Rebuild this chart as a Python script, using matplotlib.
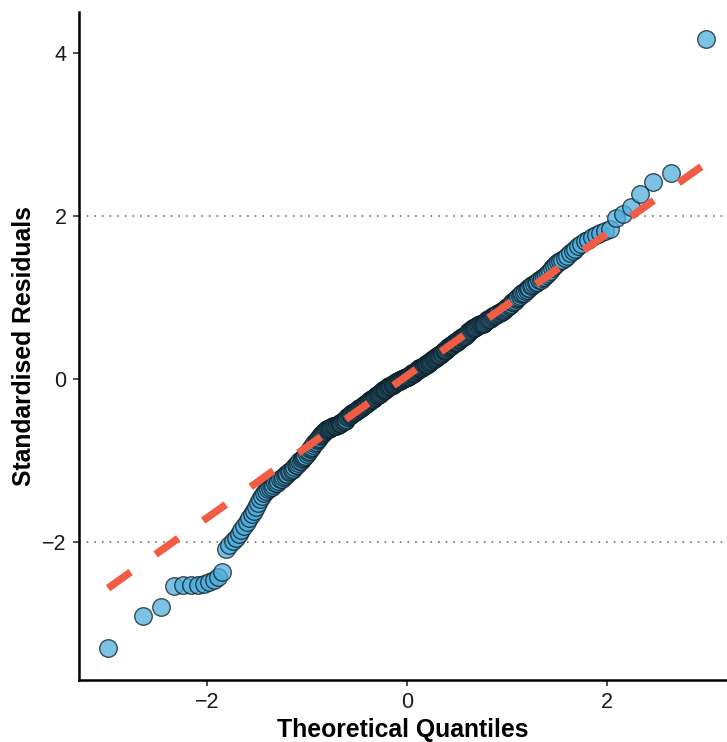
import matplotlib
matplotlib.use("Agg")
import matplotlib.pyplot as plt
import numpy as np
from statistics import NormalDist

# Sorted standardised residuals (n = 358)
residuals_low = [-3.30, -2.90, -2.80, -2.54, -2.53, -2.52, -2.52, -2.51, -2.49, -2.47, -2.43, -2.37, -2.09]
residuals_a = [-2.04, -1.99, -1.95, -1.90, -1.85, -1.80, -1.75,
               -1.70, -1.66, -1.62, -1.57, -1.52, -1.47, -1.43, -1.40, -1.37,
               -1.35, -1.33, -1.32, -1.30, -1.28, -1.27, -1.25, -1.23, -1.22, -1.20, -1.19, -1.17,
               -1.16, -1.14, -1.13, -1.11, -1.10, -1.08, -1.06, -1.05, -1.03, -1.01, -1.00, -0.98, -0.97, -0.95, -0.94, -0.92]
residuals_b = [-0.90, -0.88, -0.86, -0.84, -0.83, -0.81, -0.79, -0.77, -0.75, -0.74, -0.72, -0.70, -0.69, -0.67, -0.66, -0.65, -0.64, -0.62, -0.61,
               -0.61, -0.61, -0.60, -0.60, -0.59, -0.59, -0.58, -0.58, -0.57, -0.57, -0.56, -0.56, -0.55, -0.55, -0.54, -0.54, -0.53, -0.52, -0.52, -0.51, -0.50, -0.49,
               -0.46, -0.46, -0.45, -0.44, -0.44, -0.43, -0.42, -0.42, -0.41, -0.40, -0.40, -0.39, -0.38, -0.38, -0.37, -0.36, -0.35, -0.35, -0.34, -0.33, -0.33, -0.32, -0.31, -0.31, -0.30]
residuals_c = [-0.29, -0.28, -0.28, -0.27, -0.26, -0.26, -0.25, -0.24, -0.24, -0.23, -0.22, -0.22, -0.21, -0.20, -0.20, -0.19, -0.18, -0.18, -0.17, -0.16, -0.16, -0.15, -0.14, -0.14, -0.13, -0.12, -0.12, -0.11,
               -0.10, -0.10, -0.09, -0.09, -0.08, -0.08, -0.07, -0.07, -0.06, -0.06, -0.05, -0.05, -0.04, -0.04, -0.03, -0.03, -0.02, -0.02, -0.01, -0.01, 0.00, 0.00, 0.00, 0.01, 0.01, 0.01, 0.02, 0.02]
residuals_d = [0.03, 0.03, 0.04, 0.04, 0.05, 0.05, 0.06, 0.07, 0.07, 0.08, 0.08, 0.09, 0.10, 0.10, 0.11, 0.11, 0.12, 0.13, 0.13, 0.14, 0.14, 0.15, 0.15, 0.16, 0.16, 0.17, 0.17, 0.18,
               0.19, 0.19, 0.20, 0.21, 0.21, 0.22, 0.22, 0.23, 0.24, 0.24, 0.25, 0.26, 0.26, 0.27, 0.28, 0.28, 0.29, 0.30, 0.30, 0.31, 0.32, 0.32, 0.33, 0.34, 0.34, 0.35, 0.36, 0.37]
residuals_e = [0.38, 0.39, 0.39, 0.40, 0.41, 0.42, 0.42, 0.43, 0.44, 0.44, 0.45, 0.46, 0.46, 0.47, 0.48, 0.49, 0.49, 0.50, 0.51, 0.51, 0.52, 0.53, 0.53, 0.54, 0.55,
               0.57, 0.58, 0.59, 0.59, 0.60, 0.61, 0.62, 0.62, 0.63, 0.64, 0.64, 0.65, 0.66, 0.66, 0.67, 0.67, 0.68, 0.68, 0.69, 0.69, 0.70, 0.71,
               0.72, 0.73, 0.73, 0.74, 0.75, 0.76, 0.77, 0.77, 0.78, 0.79, 0.80, 0.81, 0.81, 0.82, 0.83, 0.84, 0.85, 0.86, 0.87]
residuals_f = [0.88, 0.89, 0.91, 0.92, 0.94, 0.95, 0.96, 0.98, 0.99, 1.01, 1.02, 1.04, 1.05, 1.06, 1.08, 1.09,
               1.11, 1.12, 1.14, 1.15, 1.16, 1.18, 1.19, 1.21, 1.22, 1.24, 1.25, 1.27,
               1.30, 1.33, 1.36, 1.39, 1.41, 1.43, 1.45, 1.46, 1.48,
               1.51, 1.54, 1.57, 1.60, 1.63, 1.66, 1.69,
               1.71, 1.74, 1.77, 1.79, 1.81]
residuals_high = [1.84, 1.98, 2.02, 2.11, 2.27, 2.42, 2.53, 4.17]

x_ticks = [-2, 0, 2]
y_ticks = [-2, 0, 2, 4]
ref_lines = [-2, 2]

sample = np.sort(np.array(residuals_low + residuals_a + residuals_b + residuals_c +
                          residuals_d + residuals_e + residuals_f + residuals_high))
n = len(sample)
nd = NormalDist()
a = 3 / 8 if n <= 10 else 0.5
probs = (np.arange(1, n + 1) - a) / (n + 1 - 2 * a)
theoretical = np.array([nd.inv_cdf(p) for p in probs])

# qq line through the quartiles
yq = np.percentile(sample, [25, 75])
xq = np.array([nd.inv_cdf(0.25), nd.inv_cdf(0.75)])
slope = (yq[1] - yq[0]) / (xq[1] - xq[0])
intercept = yq[0] - slope * xq[0]
line_x = np.array([theoretical.min(), theoretical.max()])
line_y = intercept + slope * line_x

plt.rcParams['font.family'] = ['Liberation Sans', 'DejaVu Sans']
plt.rcParams['lines.scale_dashes'] = False

W, H = 727, 742
fig = plt.figure(figsize=(W / 100, H / 100), dpi=100)
left, bottom, top = 79, 680, 12
ax = fig.add_axes([left / W, 1 - bottom / H, (W - left) / W, (bottom - top) / H])

for r in ref_lines:
    ax.axhline(r, color='#858585', linestyle=(0, (1.2, 4.3)), linewidth=1.4, zorder=1)

ax.scatter(theoretical, sample, s=160, facecolor='#4FAEDB', alpha=0.75,
           edgecolor='#0c1c25', linewidth=1.0, zorder=2)
ax.plot(line_x, line_y, color='#F25C44', linewidth=5.4, linestyle=(0, (20, 22)),
        solid_capstyle='butt', dash_capstyle='butt', zorder=3)

ax.set_xlim(-3.28, 3.20)
ax.set_ylim(-3.69, 4.50)
ax.set_xticks(x_ticks)
ax.set_yticks(y_ticks)
ax.tick_params(axis='both', labelsize=15.5, length=4, width=1.2, color='#333333',
               labelcolor='#1a1a1a', pad=5)
for s in ['top', 'right']:
    ax.spines[s].set_visible(False)
for s in ['left', 'bottom']:
    ax.spines[s].set_linewidth(1.8)
    ax.spines[s].set_color('black')

ax.set_xlabel('Theoretical Quantiles', fontsize=17.8, fontweight='bold', labelpad=3)
ax.set_ylabel('Standardised Residuals', fontsize=17.8, fontweight='bold', labelpad=4)

fig.savefig('out.png', dpi=100)
